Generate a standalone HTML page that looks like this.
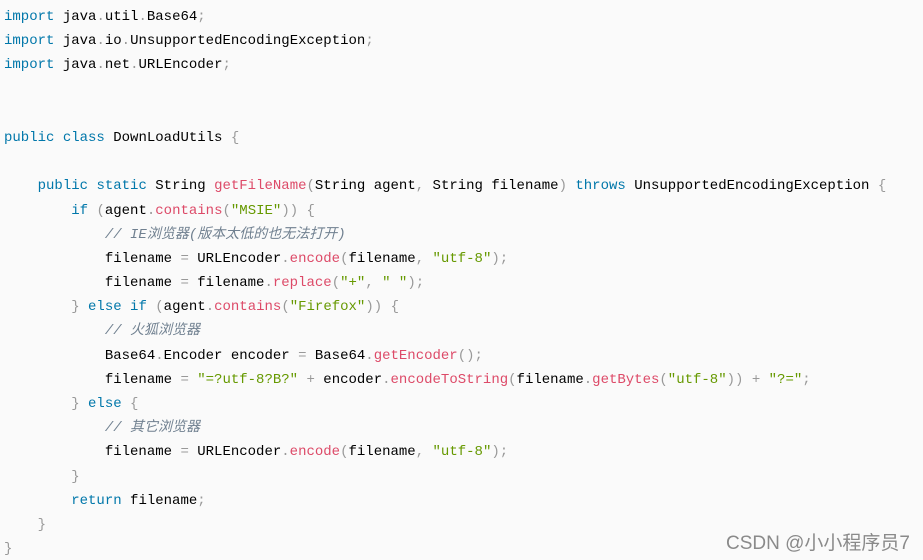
<!DOCTYPE html>
<html><head><meta charset="utf-8"><style>
html,body{margin:0;padding:0;width:923px;height:560px;overflow:hidden;background:#fafafa;}
pre{margin:0;padding:5px 0 0 4px;font-family:"Liberation Mono","Noto Sans CJK SC",monospace;font-size:14px;line-height:24.18px;color:#000;white-space:pre;}
.k{color:#0077aa}.f{color:#dd4a68}.s{color:#669900}.p{color:#999}.c{color:#708090;font-style:italic}
.wm{position:absolute;left:726px;top:528px;font-family:"Liberation Sans","Noto Sans CJK SC",sans-serif;font-size:19px;color:#8a8a8a;}
</style></head><body>
<pre><span class="k">import</span> java<span class="p">.</span>util<span class="p">.</span>Base64<span class="p">;</span>
<span class="k">import</span> java<span class="p">.</span>io<span class="p">.</span>UnsupportedEncodingException<span class="p">;</span>
<span class="k">import</span> java<span class="p">.</span>net<span class="p">.</span>URLEncoder<span class="p">;</span>


<span class="k">public</span> <span class="k">class</span> DownLoadUtils <span class="p">{</span>

    <span class="k">public</span> <span class="k">static</span> String <span class="f">getFileName</span><span class="p">(</span>String agent<span class="p">,</span> String filename<span class="p">)</span> <span class="k">throws</span> UnsupportedEncodingException <span class="p">{</span>
        <span class="k">if</span> <span class="p">(</span>agent<span class="p">.</span><span class="f">contains</span><span class="p">(</span><span class="s">"MSIE"</span><span class="p">))</span> <span class="p">{</span>
            <span class="c">// IE浏览器(版本太低的也无法打开)</span>
            filename <span class="p">=</span> URLEncoder<span class="p">.</span><span class="f">encode</span><span class="p">(</span>filename<span class="p">,</span> <span class="s">"utf-8"</span><span class="p">);</span>
            filename <span class="p">=</span> filename<span class="p">.</span><span class="f">replace</span><span class="p">(</span><span class="s">"+"</span><span class="p">,</span> <span class="s">" "</span><span class="p">);</span>
        <span class="p">}</span> <span class="k">else</span> <span class="k">if</span> <span class="p">(</span>agent<span class="p">.</span><span class="f">contains</span><span class="p">(</span><span class="s">"Firefox"</span><span class="p">))</span> <span class="p">{</span>
            <span class="c">// 火狐浏览器</span>
            Base64<span class="p">.</span>Encoder encoder <span class="p">=</span> Base64<span class="p">.</span><span class="f">getEncoder</span><span class="p">();</span>
            filename <span class="p">=</span> <span class="s">"=?utf-8?B?"</span> <span class="p">+</span> encoder<span class="p">.</span><span class="f">encodeToString</span><span class="p">(</span>filename<span class="p">.</span><span class="f">getBytes</span><span class="p">(</span><span class="s">"utf-8"</span><span class="p">))</span> <span class="p">+</span> <span class="s">"?="</span><span class="p">;</span>
        <span class="p">}</span> <span class="k">else</span> <span class="p">{</span>
            <span class="c">// 其它浏览器</span>
            filename <span class="p">=</span> URLEncoder<span class="p">.</span><span class="f">encode</span><span class="p">(</span>filename<span class="p">,</span> <span class="s">"utf-8"</span><span class="p">);</span>
        <span class="p">}</span>
        <span class="k">return</span> filename<span class="p">;</span>
    <span class="p">}</span>
<span class="p">}</span></pre>
<div class="wm">CSDN @小小程序员7</div>
</body></html>
